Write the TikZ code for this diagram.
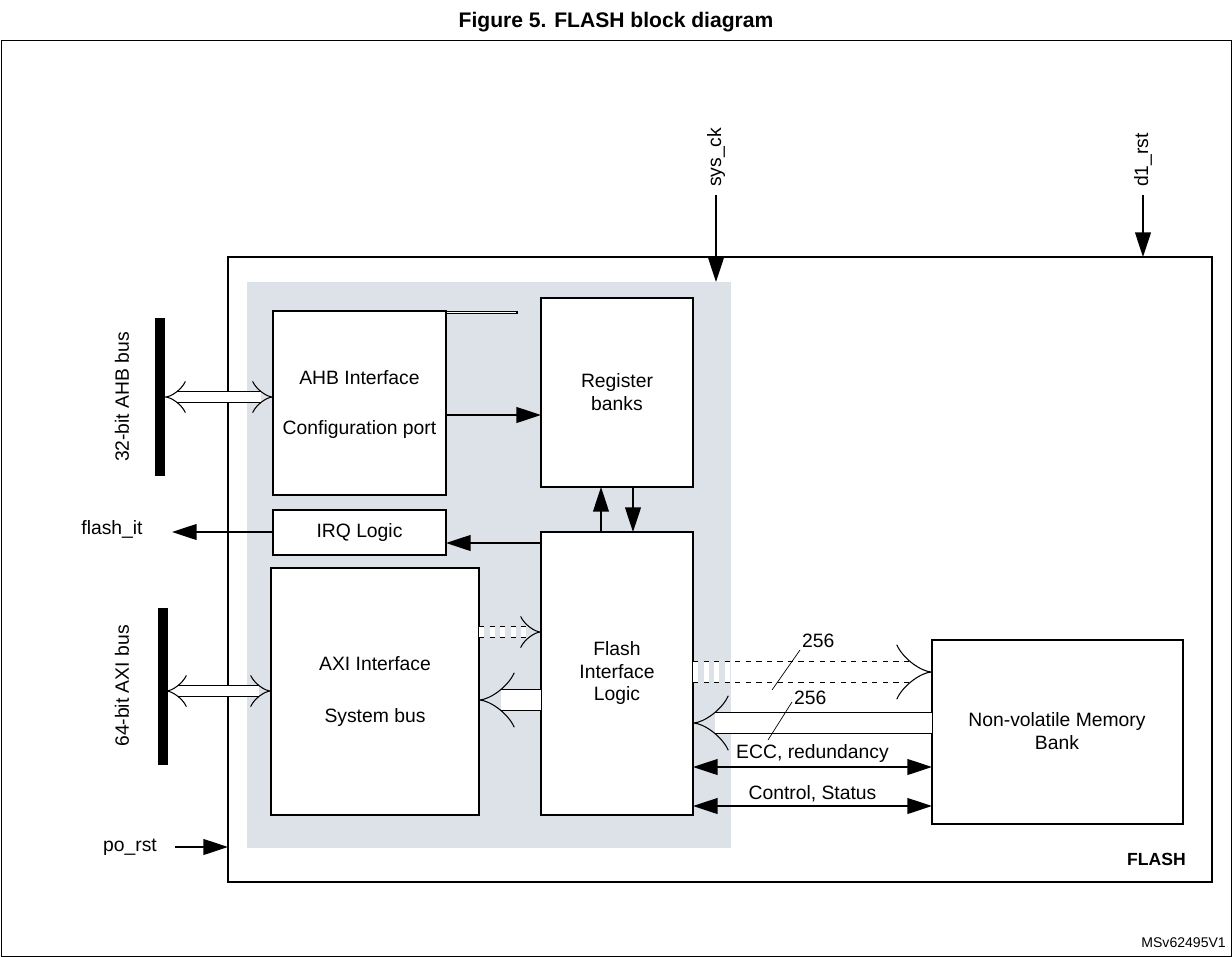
\documentclass[tikz,border=0pt]{standalone}
\usepackage{fontspec}
\setmainfont{Liberation Sans}
\usetikzlibrary{arrows.meta}
\definecolor{greyfill}{HTML}{DDE1E8}
\tikzset{
  blk/.style = {draw, thick, fill=white, align=center, inner sep=0pt},
  sig/.style = {thick, -{Triangle[length=14pt,width=9pt]}},
  dsig/.style = {thick, {Triangle[length=14pt,width=9pt]}-{Triangle[length=14pt,width=9pt]}},
  hollow/.style = {double, double distance=6pt, line width=0.6pt, -{Implies[length=9pt]}},
  dhollow/.style = {double, double distance=6pt, line width=0.6pt, {Implies[length=9pt]}-{Implies[length=9pt]}},
  wide/.style = {double, double distance=11pt, line width=0.6pt, -{Implies[length=10pt]}},
}
\begin{document}
\begin{tikzpicture}[x=0.02cm, y=-0.02cm, font=\fontsize{11}{13}\selectfont]
\useasboundingbox (0,0) rectangle (1232,957);
\node[font=\fontsize{12}{14}\selectfont\bfseries] at (616,22) {Figure 5. FLASH block diagram};
\draw[thin] (1,40) rectangle (1231,956);
% main block
\draw[thick] (228,257) rectangle (1212,882);
\node[font=\bfseries, anchor=south east] at (1192,872) {FLASH};
\fill[greyfill] (247,282) rectangle (731,848);
% blocks
\node[blk, minimum width=173\pgflinewidth, anchor=north west] (ahb) at (273,311) {};
\draw[thick, fill=white] (273,311) rectangle (446,495);
\coordinate (ahbW) at (273,397); \coordinate (ahbE) at (446,415);
\node at (359.5,378) {AHB Interface};
\node at (359.5,429) {Configuration port};
\draw[thick, fill=white] (541,298) rectangle (693,487);
\node[align=center] (reg) at (617,392) {Register\\banks};
\draw[thick, fill=white] (273,510) rectangle (446,555);
\node (irq) at (359.5,532) {IRQ Logic};
\draw[thick, fill=white] (271,568) rectangle (479,815);
\node at (375,664) {AXI Interface};
\node at (375,717) {System bus};
\draw[thick, fill=white] (541,532) rectangle (693,815);
\node[align=center] (fil) at (617,673) {Flash\\Interface\\Logic};
\draw[thick, fill=white] (932,640) rectangle (1183,824);
\node[align=center] (nvm) at (1057,731) {Non-volatile Memory\\Bank};
% buses
\draw[line width=6pt] (160,318) -- (160,476);
\node[rotate=90] at (122,397) {32-bit AHB bus};
\draw[line width=6pt] (163,608) -- (163,765);
\node[rotate=90] at (122,686) {64-bit AXI bus};
\coordinate (ahbbus) at (165,397); \coordinate (axibus) at (166,691);
\coordinate (axiW) at (271,691);
\draw[dhollow] (ahbbus) -- (ahbW);
\draw[dhollow] (axibus) -- (axiW);
% signals
\node (flashit) at (112,529) {flash\_it};
\coordinate (irqW) at (273,532); \coordinate (itend) at (172,532);
\draw[sig] (irqW) -- (itend);
\coordinate (regW) at (541,415);
\draw[sig] (ahbE) -- (regW);
\coordinate (up1) at (601,532); \coordinate (up2) at (601,487);
\coordinate (dn1) at (633,487); \coordinate (dn2) at (633,532);
\draw[sig] (up1) -- (up2);
\draw[sig] (dn1) -- (dn2);
\coordinate (filirq) at (541,543); \coordinate (irqE) at (446,543);
\draw[sig] (filirq) -- (irqE);
\coordinate (axiE1) at (479,632); \coordinate (filW1) at (541,632);
\draw[hollow, dashed] (axiE1) -- (filW1);
\coordinate (filW2) at (541,700); \coordinate (axiE2) at (479,700);
\draw[wide] (filW2) -- (axiE2);
\coordinate (filE1) at (693,672); \coordinate (nvmW1) at (932,672);
\draw[wide, dashed] (filE1) -- (nvmW1);
\coordinate (nvmW2) at (932,723); \coordinate (filE2) at (693,723);
\draw[wide] (nvmW2) -- (filE2);
\draw (772,690) -- (800,650) node[anchor=south west, inner sep=1pt] {256};
\draw (768,740) -- (792,702) node[anchor=south west, inner sep=1pt, yshift=-3pt] {256};
\coordinate (filE3) at (693,767); \coordinate (nvmW3) at (932,767);
\draw[dsig] (filE3) -- node[above, inner sep=2pt] {ECC, redundancy} (nvmW3);
\coordinate (filE4) at (693,806); \coordinate (nvmW4) at (932,806);
\draw[dsig] (filE4) -- node[above, inner sep=2pt] {Control, Status} (nvmW4);
% clocks and resets
\coordinate (ckT) at (716,195); \coordinate (ckB) at (716,282);
\draw[sig] (ckT) -- (ckB);
\node[rotate=90, anchor=west] at (716,193) {sys\_ck};
\coordinate (rstT) at (1143,195); \coordinate (rstB) at (1143,257);
\draw[sig] (rstT) -- (rstB);
\node[rotate=90, anchor=west] at (1143,193) {d1\_rst};
\node (porst) at (130,847) {po\_rst};
\coordinate (poL) at (175,847); \coordinate (poR) at (228,847);
\draw[sig] (poL) -- (poR);
\node[font=\fontsize{8}{10}\selectfont, anchor=east] at (1232,943) {MSv62495V1};
\end{tikzpicture}
\end{document}
